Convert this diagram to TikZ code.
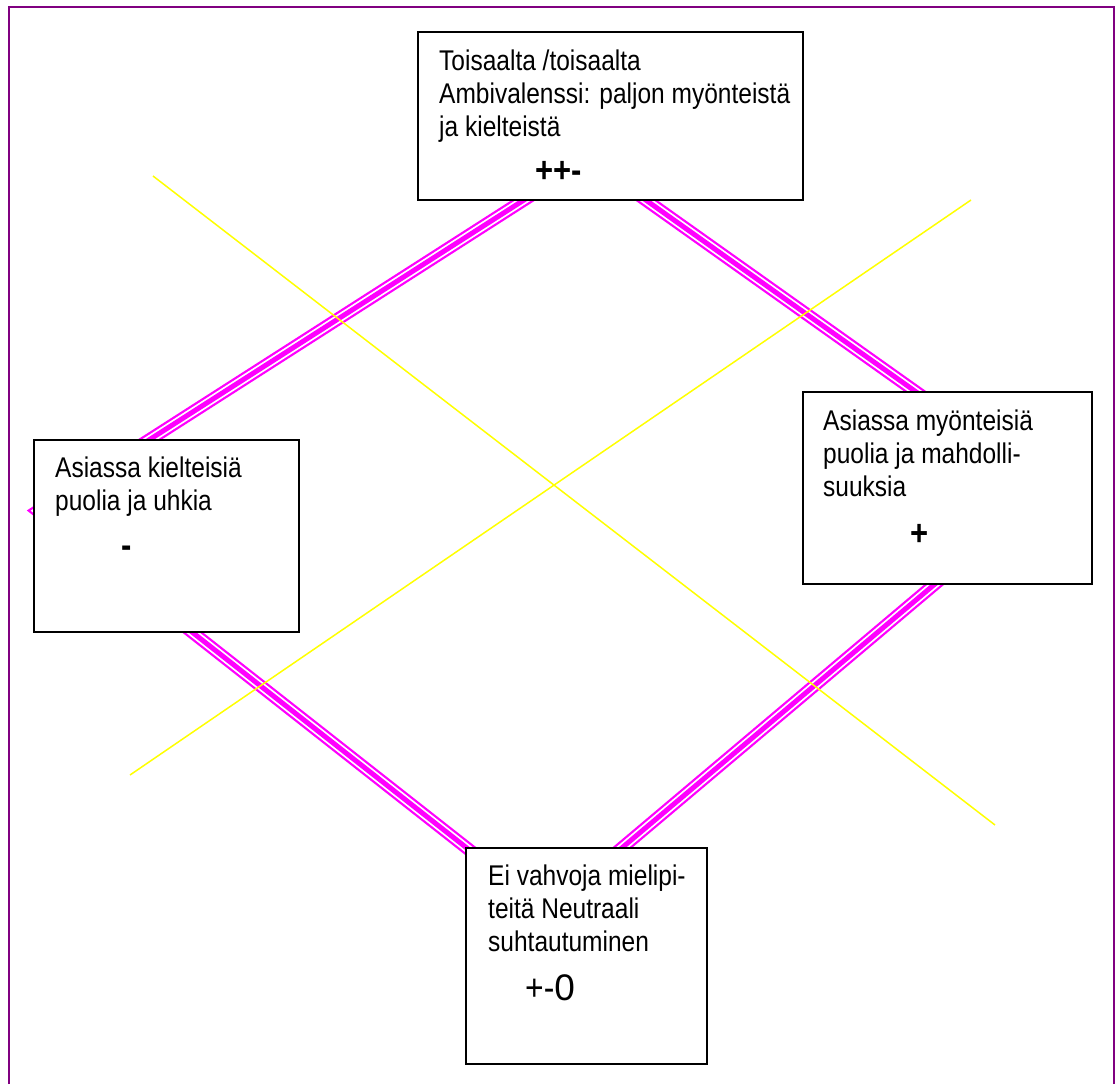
\documentclass[tikz,border=0pt]{standalone}
\usepackage{fontspec}
\usepackage{tikz}
\newfontfamily\boxfont[FakeStretch=0.86]{Liberation Sans}
\newfontfamily\numfont{Liberation Sans}
\newcommand{\sline}{\rule{0pt}{22pt}}
\definecolor{mmagenta}{rgb}{1, 0, 1}
\definecolor{myellow}{rgb}{1, 1, 0}
\definecolor{mpurple}{rgb}{0.5, 0, 0.5}
\tikzset{tline/.style = {mmagenta, line width = 13pt,
                         postaction = {draw = white, line width = 8.5pt},
                         postaction = {draw = mmagenta, line width = 5pt}}}
\tikzset{yline/.style = {myellow, line width = 1.5pt}}
\tikzset{boxed/.style = {draw, fill = white, line width = 2pt, inner sep = 0, rectangle}}
\tikzset{txt/.style = {anchor = north west, inner sep = 0, align = left,
                       font = \boxfont\fontsize{28.5}{33}\selectfont}}
\tikzset{sym/.style = {anchor = base west, inner sep = 0,
                       font = \boxfont\fontsize{36}{36}\selectfont\bfseries}}

\begin{document}
\begin{tikzpicture}[x = 1pt, y = -1pt]
    \useasboundingbox (0, 0) rectangle (1116, 1084);
    \draw [mpurple, line width = 2pt] (9, 1084) -- (9, 7) -- (1114, 7) -- (1114, 1084);

    \coordinate (ctop) at (588, 159);
    \coordinate (cright) at (1050, 487);
    \coordinate (cbottom) at (547, 911);
    \coordinate (cleft) at (38, 511);
    \draw [tline] (ctop) -- (cright) -- (cbottom) -- (cleft) -- cycle;

    \coordinate (ya) at (153, 176);
    \coordinate (yb) at (995, 825);
    \coordinate (yc) at (130, 775);
    \coordinate (yd) at (971, 200);
    \draw [yline] (ya) -- (yb);
    \draw [yline] (yc) -- (yd);

    \node [boxed, minimum width = 385pt, minimum height = 168pt] (ambi) at (610.5, 116) {};
    \node [boxed, minimum width = 265pt, minimum height = 192pt] (neg) at (166.5, 536) {};
    \node [boxed, minimum width = 289pt, minimum height = 192pt] (pos) at (947.5, 488) {};
    \node [boxed, minimum width = 241pt, minimum height = 216pt] (neutral) at (586.5, 956) {};

    \node [txt] (ambitext) at (439, 48) {\sline Toisaalta /toisaalta\\Ambivalenssi: paljon myönteistä\\ja kielteistä};
    \node [sym] (ambisign) at (535, 182) {++-};

    \node [txt] (negtext) at (55, 455) {\sline Asiassa kielteisiä\\puolia ja uhkia};
    \node [sym] (negsign) at (121, 557) {-};

    \node [txt] (postext) at (823, 408) {\sline Asiassa myönteisiä\\puolia ja mahdolli-\\suuksia};
    \node [sym] (possign) at (910, 545) {+};

    \node [txt] (neutraltext) at (488, 863) {\sline Ei vahvoja mielipi-\\teitä Neutraali\\suhtautuminen};
    \node [sym, font = \boxfont\fontsize{37}{37}\selectfont] (neutralsign) at (525, 1000) {+-{\numfont\fontsize{37}{37}\selectfont 0}};
  \end{tikzpicture}
\end{document}
